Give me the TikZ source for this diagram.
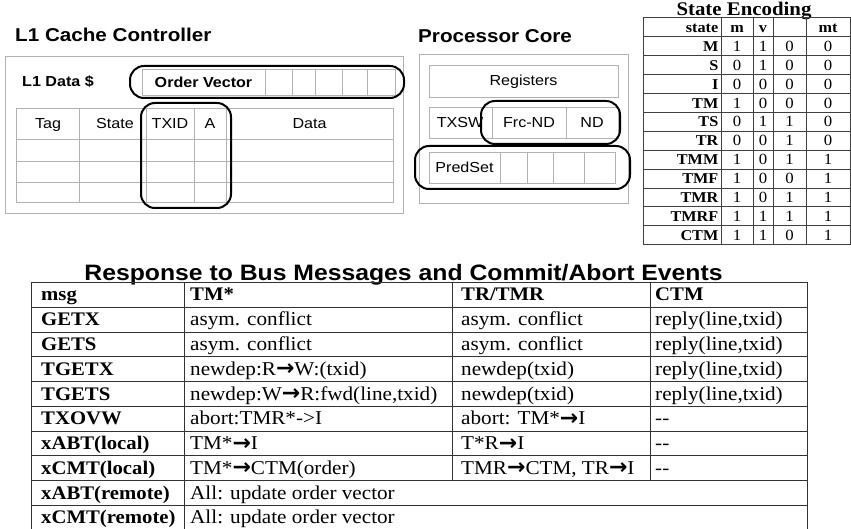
\documentclass[tikz,border=0pt]{standalone}
\usepackage{fontspec}
\setmainfont[FakeStretch=1.08]{Liberation Serif}
\newfontfamily\arialf[FakeStretch=1.11]{Liberation Sans}
\newfontfamily\symf{DejaVu Sans}
\newcommand\myarr{\raisebox{-0.6pt}{\symf\bfseries\fontsize{22}{22}\selectfont\char"2192}}
\tikzset{
  greybox/.style={draw=gray!60, line width=0.9pt},
  hl/.style={draw=black, line width=2pt, rounded corners=14pt},
  tline/.style={draw=black!80, line width=0.9pt},
  sline/.style={draw=black!75, line width=1pt},
  bigtitle/.style={inner sep=0pt, font=\arialf\bfseries\fontsize{18.6}{20}\selectfont},
  sansb/.style={inner sep=0pt, font=\arialf\bfseries\fontsize{14.5}{16}\selectfont},
  sansr/.style={inner sep=0pt, anchor=base, font=\arialf\fontsize{14.5}{16}\selectfont},
  setitle/.style={inner sep=0pt, font=\bfseries\fontsize{19.3}{20}\selectfont},
  setxt/.style={inner sep=0pt, font=\fontsize{15.5}{16}\selectfont},
  sehd/.style={inner sep=0pt, font=\bfseries\fontsize{15}{16}\selectfont},
  rtitle/.style={inner sep=0pt, font=\arialf\bfseries\fontsize{22.3}{24}\selectfont},
  rtxt/.style={inner sep=0pt, anchor=base west, font=\fontsize{19.6}{22}\selectfont},
  rhd/.style={inner sep=0pt, anchor=base west, font=\bfseries\fontsize{19.2}{22}\selectfont}
}
\begin{document}
\begin{tikzpicture}[x=1pt,y=-1pt]
\useasboundingbox (0,0) rectangle (851,529);
\fill[white] (0,0) rectangle (851,529);

% ---------------- L1 Cache Controller ----------------
\node[bigtitle, anchor=base west] (l1title) at (15,42) {L1 Cache Controller};
\draw[greybox] (5,56) rectangle (403,213);
\node[sansb, anchor=west] (l1data) at (22,82) {L1 Data \$};
\draw[greybox] (142,69) rectangle (395,95);
\foreach \x in {265,292,315,342,367} \draw[greybox] (\x,69) -- (\x,95);
\node[sansb] (ov) at (203.5,82) {Order Vector};
\draw[hl] (130,66) rectangle (404,98);

\draw[greybox] (16,108) rectangle (393,202);
\foreach \y in {139,161,182} \draw[greybox] (16,\y) -- (393,\y);
\foreach \x in {79,146,194,226} \draw[greybox] (\x,108) -- (\x,202);
\node[sansr] (htag) at (48,129) {Tag};
\node[sansr] (hstate) at (115,129) {State};
\node[sansr] (htxid) at (170,129) {TXID};
\node[sansr] (ha) at (210,129) {A};
\node[sansr] (hdata) at (309.5,129) {Data};
\draw[hl] (141,103) rectangle (231,208);

% ---------------- Processor Core ----------------
\node[bigtitle, anchor=base west] (pctitle) at (418,43) {Processor Core};
\draw[greybox] (419,54) rectangle (628,203);
\draw[greybox] (429,65) rectangle (618,97);
\node[sansr] (regs) at (523.5,86) {Registers};
\draw[greybox] (429,107) rectangle (618,138);
\foreach \x in {492,566} \draw[greybox] (\x,107) -- (\x,138);
\node[sansr] (txsw) at (460,128) {TXSW};
\node[sansr] (frcnd) at (529,128) {Frc-ND};
\node[sansr] (nd) at (592,128) {ND};
\draw[hl] (481,101) rectangle (620,144);
\draw[greybox] (429,152) rectangle (615,183);
\foreach \x in {500,527,553,584} \draw[greybox] (\x,152) -- (\x,183);
\node[sansr] (predset) at (464.5,172.5) {PredSet};
\draw[hl] (415,146) rectangle (630,189);

% ---------------- State Encoding ----------------
\node[setitle, anchor=base] (setitle) at (744,15.2) {State Encoding};
\def\rh{18.9}
\draw[sline] (643,18) rectangle (850,244.8);
\foreach \i in {1,...,11} \draw[sline] (643,18+\i*\rh) -- (850,18+\i*\rh);
\foreach \x in {721,753,773,806} \draw[sline] (\x,18) -- (\x,244.8);
\node[sehd, anchor=base east] (sehs) at (718.5,32.5) {state};
\node[sehd, anchor=base] (sehm) at (737,32.5) {m};
\node[sehd, anchor=base] (sehv) at (763,32.5) {v};
\node[sehd, anchor=base] (sehmt) at (828,32.5) {mt};
\foreach \n/\a/\b/\c/\d [count=\k] in {M/1/1/0/0, S/0/1/0/0, I/0/0/0/0, TM/1/0/0/0, TS/0/1/1/0, TR/0/0/1/0, TMM/1/0/1/1, TMF/1/0/0/1, TMR/1/0/1/1, TMRF/1/1/1/1, CTM/1/1/0/1} {
  \node[sehd, anchor=base east] (sen\k) at (718.5,32.5+\k*\rh) {\n};
  \node[setxt, anchor=base] (sea\k) at (737,32.5+\k*\rh) {\a};
  \node[setxt, anchor=base] (seb\k) at (763,32.5+\k*\rh) {\b};
  \node[setxt, anchor=base] (sec\k) at (789.5,32.5+\k*\rh) {\c};
  \node[setxt, anchor=base] (sed\k) at (828,32.5+\k*\rh) {\d};
}

% ---------------- Response table ----------------
\node[rtitle, anchor=base] (rtitle) at (403.5,280.5) {Response to Bus Messages and Commit/Abort Events};
\def\th{24.75}
\draw[tline] (31,282.5) rectangle (807,530);
\foreach \i in {1,...,9} \draw[tline] (31,282.5+\i*\th) -- (807,282.5+\i*\th);
\draw[tline] (184,282.5) -- (184,530);
\foreach \x in {452,650} \draw[tline] (\x,282.5) -- (\x,282.5+8*\th);
\node[rhd] (hmsg) at (41,301) {msg};
\node[rhd] (htm) at (190,301) {TM*};
\node[rhd] (htr) at (461,301) {TR/TMR};
\node[rhd] (hctm) at (655,301) {CTM};
\foreach \m/\p/\q/\r [count=\k] in {
  GETX/asym. conflict/asym. conflict/reply(line{,}txid),
  GETS/asym. conflict/asym. conflict/reply(line{,}txid),
  TGETX/newdep:R\myarr W:(txid)/newdep(txid)/reply(line{,}txid),
  TGETS/newdep:W\myarr R:fwd(line{,}txid)/newdep(txid)/reply(line{,}txid),
  TXOVW/abort:TMR*-{}>I/abort: TM*\myarr I/-{}-,
  xABT(local)/TM*\myarr I/T*R\myarr I/-{}-,
  xCMT(local)/TM*\myarr CTM(order)/TMR\myarr CTM{,} TR\myarr I/-{}-} {
  \node[rhd] (m\k) at (41,301+\k*\th) {\m};
  \node[rtxt] (p\k) at (190,301+\k*\th) {\p};
  \node[rtxt] (q\k) at (461,301+\k*\th) {\q};
  \node[rtxt] (r\k) at (655,301+\k*\th) {\r};
}
\node[rhd] (m8) at (41,301+8*\th) {xABT(remote)};
\node[rtxt] (p8) at (190,301+8*\th) {All: update order vector};
\node[rhd] (m9) at (41,301+9*\th) {xCMT(remote)};
\node[rtxt] (p9) at (190,301+9*\th) {All: update order vector};
\end{tikzpicture}
\end{document}
